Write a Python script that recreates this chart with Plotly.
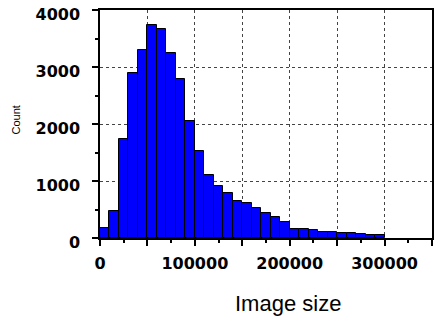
import plotly.graph_objects as go

bin_width = 10000
bin_starts = [0, 10000, 20000, 30000, 40000, 50000, 60000, 70000, 80000, 90000,
              100000, 110000, 120000, 130000, 140000, 150000, 160000, 170000, 180000, 190000,
              200000, 210000, 220000, 230000, 240000, 250000, 260000, 270000, 280000, 290000]
counts = [170, 480, 1730, 2890, 3290, 3740, 3670, 3240, 2795, 2060,
          1525, 1105, 918, 795, 650, 610, 532, 444, 368, 275,
          160, 155, 145, 105, 100, 85, 80, 65, 50, 50]

x_tickvals = [0, 50000, 100000, 150000, 200000, 250000, 300000, 350000]
x_ticktext = ["0", "", "100000", "", "200000", "", "300000", ""]
y_tickvals = [0, 1000, 2000, 3000, 4000]
y_ticktext = ["0", "1000", "2000", "3000", "4000"]

fig = go.Figure()
fig.add_trace(go.Bar(
    x=bin_starts, y=counts, width=bin_width, offset=0,
    marker=dict(color="#0000FF", line=dict(color="black", width=1)),
))

tickfont = dict(family="DejaVu Sans", size=16, color="black", weight="bold")
# page body adds an 8px offset; margins compensate so the plot area sits at x 100-432, y 10-238
L, R, T, B = 92, 18, 2, 99
fig.update_layout(
    width=442, height=329,
    margin=dict(l=L, r=R, t=T, b=B, autoexpand=False),
    plot_bgcolor="white", paper_bgcolor="white",
    showlegend=False, bargap=0,
    xaxis=dict(
        range=[0, 350000], tickvals=x_tickvals, ticktext=x_ticktext,
        showline=True, linecolor="black", linewidth=1.5, mirror="ticks",
        ticks="outside", ticklen=6, tickcolor="black", tickwidth=1.5,
        tickfont=tickfont, ticklabelstandoff=4, automargin=False, ticklabeloverflow="allow",
        showgrid=True, gridcolor="#444", griddash="dot", gridwidth=1,
        minor=dict(dtick=25000, tick0=0, ticks="outside", ticklen=3, tickcolor="black",
                   showgrid=False),
        zeroline=False,
    ),
    yaxis=dict(
        range=[0, 4000], tickvals=y_tickvals, ticktext=y_ticktext,
        showline=True, linecolor="black", linewidth=1.5, mirror="ticks",
        ticks="outside", ticklen=6, tickcolor="black", tickwidth=1.5,
        tickfont=tickfont, ticklabelstandoff=9, ticklabelshift=4,
        automargin=False, ticklabeloverflow="allow",
        showgrid=True, gridcolor="#444", griddash="dot", gridwidth=1,
        minor=dict(dtick=500, tick0=0, ticks="outside", ticklen=3, tickcolor="black",
                   showgrid=False),
        zeroline=False,
    ),
    annotations=[
        dict(text="Image size", xref="paper", yref="paper", x=(288-100)/332, y=-(318-238)/228,
             xanchor="center", yanchor="bottom", showarrow=False,
             font=dict(family="Liberation Sans", size=22, color="black")),
        dict(text="Count", xref="paper", yref="paper", x=-(100-15.5)/332, y=(238-120)/228,
             xanchor="center", yanchor="middle", textangle=-90, showarrow=False,
             font=dict(family="Liberation Sans", size=11, color="black")),
    ],
)

fig.write_html("out.html")
